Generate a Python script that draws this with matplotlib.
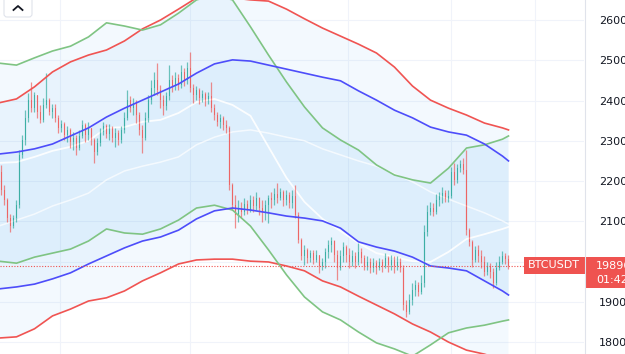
import matplotlib
matplotlib.use("Agg")
import matplotlib.pyplot as plt
import numpy as np
from matplotlib.patches import Rectangle, FancyBboxPatch

# candle data (BTCUSDT), opens = previous close
first_open = 22225
closes = [21777, 21529, 21082, 20883, 21082, 21405, 22647, 23020, 23566, 24013,
          23814, 24137, 23715, 23516, 23889, 24013, 23715, 23814, 23566, 23318,
          23417, 23144, 23268, 22970, 23069, 22821, 23119, 23392, 23144, 23318,
          23020, 22721, 22945, 23218, 23367, 23169, 23318, 23069, 23193, 23020,
          23268, 23566, 24013, 23814, 23939, 23640, 23268, 23069, 23566, 24013,
          24311, 24510, 24261, 24013, 23864, 24112, 24510, 24361, 24559, 24386,
          24709, 24510, 24808, 24311, 24137, 24261, 24063, 24162, 24013, 24112,
          23814, 23640, 23467, 23566, 23392, 23318, 21901, 21405, 21157, 21331,
          21231, 21430, 21281, 21529, 21380, 21579, 21331, 21231, 21405, 21579,
          21529, 21678, 21579, 21728, 21529, 21653, 21455, 21628, 21157, 20536,
          20138, 20287, 20088, 20212, 20039, 20163, 19890, 19989, 20237, 20411,
          20511, 20163, 19840, 20138, 20362, 20163, 19989, 20138, 19989, 20237,
          20088, 19890, 19989, 19840, 19964, 19840, 19989, 19890, 20088, 19914,
          20039, 19890, 19989, 19840, 18921, 18747, 19045, 19293, 19418, 19244,
          19467, 20734, 21231, 21331, 21231, 21529, 21628, 21703, 21554, 21628,
          22225, 22025, 22324, 22423, 22274, 20784, 20486, 20039, 20287, 20138,
          19989, 19741, 19890, 19741, 19467, 19840, 19989, 20138, 20063, 19896]
highs = [22398, 21901, 21579, 21182, 21157, 21529, 22771, 23144, 23765, 24187,
         24460, 24212, 24137, 23889, 24063, 24684, 24063, 23914, 23914, 23640,
         23516, 23467, 23367, 23318, 23218, 23144, 23268, 23516, 23442, 23467,
         23318, 23069, 23069, 23318, 23467, 23417, 23417, 23367, 23318, 23268,
         23367, 23715, 24261, 24112, 24063, 24013, 23715, 23392, 23715, 24137,
         24510, 24709, 24932, 24386, 24137, 24212, 24882, 24634, 24709, 24659,
         24882, 24808, 24957, 25205, 24410, 24361, 24311, 24261, 24212, 24212,
         24460, 23914, 23715, 23665, 23616, 23516, 23367, 21951, 21653, 21529,
         21479, 21579, 21529, 21653, 21628, 21728, 21604, 21529, 21529, 21653,
         21728, 21827, 21951, 21827, 21777, 21777, 21728, 21777, 21901, 21231,
         20585, 20411, 20337, 20287, 20287, 20287, 20163, 20088, 20337, 20536,
         20610, 20536, 20287, 20287, 20486, 20411, 20337, 20287, 20237, 20461,
         20337, 20163, 20138, 20088, 20088, 20039, 20088, 20063, 20212, 20138,
         20163, 20138, 20138, 20088, 19914, 19045, 19194, 19467, 19542, 19492,
         19666, 20908, 21405, 21479, 21455, 21678, 21728, 21849, 21777, 21777,
         22349, 22448, 22423, 22523, 22572, 22771, 20834, 20536, 20386, 20411,
         20287, 20138, 19989, 19964, 19840, 19989, 20138, 20262, 20212, 20163]
lows = [21653, 21405, 20983, 20734, 20834, 20983, 21331, 22572, 22895, 23467,
        23715, 23715, 23566, 23442, 23467, 23814, 23640, 23566, 23467, 23193,
        23218, 23020, 22970, 22821, 22771, 22647, 22771, 23069, 22970, 23020,
        22895, 22448, 22647, 22871, 23144, 23069, 23020, 22970, 22846, 22895,
        22945, 23193, 23516, 23715, 23640, 23442, 23144, 22697, 23020, 23467,
        23914, 24137, 24137, 23814, 23640, 23765, 24013, 24212, 24261, 24261,
        24311, 24361, 24410, 24212, 23939, 24013, 23914, 23963, 23864, 23914,
        23715, 23516, 23367, 23318, 23268, 23193, 21777, 21281, 20834, 20983,
        21082, 21157, 21182, 21231, 21231, 21281, 21157, 20983, 21032, 20958,
        21331, 21405, 21455, 21529, 21380, 21405, 21331, 21331, 21082, 20461,
        20039, 19914, 19964, 19989, 19939, 19989, 19716, 19790, 19840, 20088,
        20237, 19989, 19542, 19790, 19989, 19989, 19840, 19890, 19840, 19914,
        19964, 19790, 19790, 19716, 19741, 19691, 19790, 19741, 19840, 19741,
        19790, 19716, 19790, 19741, 18797, 18623, 18697, 18921, 19144, 19144,
        19194, 19368, 20635, 21157, 21132, 21182, 21380, 21455, 21479, 21479,
        21579, 21901, 21951, 22225, 22175, 20660, 20386, 19865, 19989, 19989,
        19840, 19641, 19666, 19592, 19343, 19418, 19790, 19939, 19939, 19815]

# indicator bands, sampled every 6 bars
band_idx = list(range(-1, 168, 6)) + [169]
red_upper = [23940, 24040, 24340, 24710, 24960, 25130, 25255, 25480, 25780, 26000,
             26270, 26550, 26620, 26550, 26500, 26470, 26270, 26030, 25800, 25600,
             25400, 25180, 24830, 24360, 24010, 23810, 23640, 23440, 23320, 23270]
green_upper = [24930, 24880, 25060, 25230, 25350, 25580, 25930, 25850, 25750, 25880,
               26170, 26500, 26620, 26500, 25830, 25130, 24460, 23840, 23320, 23020,
               22770, 22400, 22150, 22030, 21950, 22320, 22820, 22900, 23040, 23120]
blue_upper = [22670, 22720, 22800, 22920, 23120, 23320, 23590, 23810, 24010, 24210,
              24410, 24680, 24910, 25010, 24980, 24880, 24780, 24680, 24580, 24490,
              24240, 24010, 23760, 23570, 23340, 23220, 23140, 22920, 22620, 22500]
blue_lower = [19320, 19370, 19440, 19570, 19720, 19940, 20140, 20340, 20510, 20610,
              20780, 21060, 21260, 21330, 21280, 21210, 21130, 21080, 21010, 20830,
              20490, 20360, 20260, 20110, 19890, 19840, 19770, 19520, 19270, 19170]
green_lower = [20010, 19960, 20110, 20210, 20310, 20510, 20810, 20710, 20680, 20810,
               21030, 21330, 21400, 21280, 20880, 20290, 19670, 19120, 18750, 18550,
               18250, 17980, 17830, 17650, 17930, 18230, 18350, 18420, 18520, 18550]
red_lower = [18100, 18130, 18330, 18650, 18820, 19020, 19100, 19270, 19520, 19720,
             19940, 20040, 20060, 20060, 20010, 19990, 19890, 19770, 19520, 19370,
             19140, 18920, 18700, 18450, 18250, 18000, 17800, 17700, 17560, 17510]
white_basis = [22450, 22470, 22600, 22750, 22850, 23000, 23320, 23340, 23470, 23520,
               23690, 23960, 24040, 23890, 23620, 22850, 22080, 21480, 21060, 20760,
               20460, 20210, 20110, 20010, 19990, 20240, 20560, 20680, 20810, 20860]
white_slow = [20880, 21030, 21180, 21380, 21530, 21700, 22030, 22250, 22370, 22470,
              22600, 22900, 23090, 23220, 23270, 23190, 23090, 23000, 22800, 22650,
              22500, 22370, 22180, 21980, 21730, 21550, 21380, 21210, 21010, 20930]

price_ticks = [18000, 19000, 20000, 21000, 22000, 23000, 24000, 25000, 26000]
time_grid = [19.5, 62.8, 115.5, 149.8, 177.8]
last_price = 19896
symbol = "BTCUSDT"
countdown = "01:42"

W, H = 625, 354
UP, DOWN = "#26a69a", "#ef5350"

fig = plt.figure(figsize=(W / 100, H / 100), dpi=100)
ax = fig.add_axes([0, 0, 584 / W, 1])
ax.set_xlim(-0.5, 194.17)
ax.set_ylim(17704, 26497)

# band fills
for up, lo in [(red_upper, red_lower), (green_upper, green_lower), (blue_upper, blue_lower)]:
    ax.fill_between(band_idx, up, lo, color="#2196f3", alpha=0.05, lw=0)

ax.plot(band_idx, white_basis, color="white", lw=1.3, alpha=0.9)
ax.plot(band_idx, white_slow, color="white", lw=1.1, alpha=0.7)

# candles
idx = np.arange(len(closes))
c = np.array(closes)
o = np.array([first_open] + closes[:-1])
cols = [UP if cc >= oo else DOWN for oo, cc in zip(o, c)]
ax.vlines(idx, lows, highs, colors=cols, lw=0.9, alpha=0.65)
body = np.maximum(np.abs(c - o), 12)
ax.bar(idx, body, bottom=np.minimum(o, c), width=0.6, color=cols, alpha=0.65, lw=0)

ax.plot(band_idx, red_upper, color="#f05452", lw=1.2)
ax.plot(band_idx, red_lower, color="#f05452", lw=1.2)
ax.plot(band_idx, green_upper, color="#7fc483", lw=1.2)
ax.plot(band_idx, green_lower, color="#7fc483", lw=1.2)
ax.plot(band_idx, blue_upper, color="#4d4dfa", lw=1.2)
ax.plot(band_idx, blue_lower, color="#4d4dfa", lw=1.2)

ax.axhline(last_price, color=DOWN, lw=0.8, ls=(0, (1, 1.5)))

ax.set_yticks(price_ticks)
ax.set_yticklabels([str(p) for p in price_ticks])
ax.yaxis.tick_right()
ax.tick_params(axis="y", length=0, pad=11, labelsize=8, labelcolor="#131722")
ax.set_xticks(time_grid)
ax.tick_params(axis="x", length=0, labelbottom=False)
ax.grid(True, color="#f0f3fa", lw=0.8)
ax.set_axisbelow(True)
for s in ax.spines.values():
    s.set_visible(False)

# overlay in pixel coords for labels and the button
ov = fig.add_axes([0, 0, 1, 1], zorder=5)
ov.set_xlim(0, W)
ov.set_ylim(H, 0)
ov.axis("off")
ov.patch.set_visible(False)
ov.plot([584.5, 584.5], [0, H], color="#e0e3eb", lw=0.8)
ov.add_patch(Rectangle((524, 257), 61, 17, fc=DOWN, ec="none"))
ov.add_patch(Rectangle((585, 257), 40, 31, fc=DOWN, ec="none"))
ov.text(554, 265.5, symbol, color="white", fontsize=8, ha="center", va="center")
ov.text(596, 266, str(last_price), color="white", fontsize=8, va="center")
ov.text(596, 280, countdown, color="white", fontsize=8, va="center")
ov.add_patch(FancyBboxPatch((4, -4), 28, 21, boxstyle="round,pad=0,rounding_size=3",
                            fc="white", ec="#e0e3eb", lw=0.8))
ov.plot([13.5, 18, 22.5], [10, 6, 10], color="#131722", lw=1.3)

fig.savefig("out.png", dpi=100)
